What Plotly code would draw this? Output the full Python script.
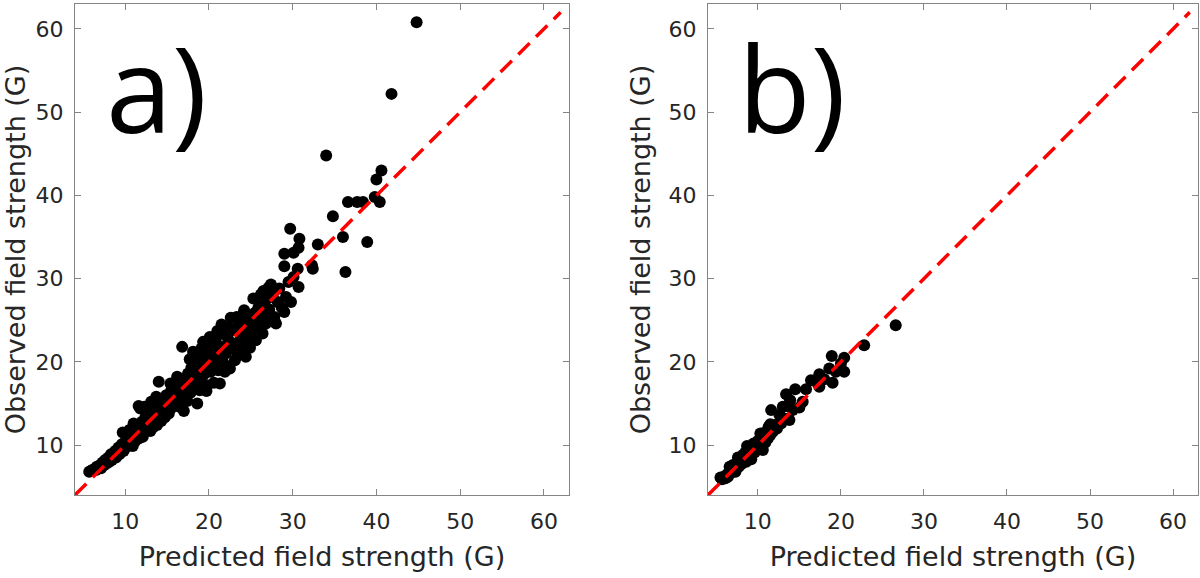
import plotly.graph_objects as go

# --------------------------------------
# Data
# --------------------------------------

# panel a) predicted vs observed field strength (G)
pred_a = [
    5.7, 5.9, 6.1, 6.3, 6.5, 6.6, 6.8, 7.0, 7.1, 7.3, 7.5, 7.6, 7.8, 8.0, 8.1, 8.3,
    8.4, 8.6, 8.8, 8.9, 9.0, 9.2, 9.3, 9.5, 9.6, 9.7, 9.8, 10.0, 10.2, 10.3, 10.5,
    10.7, 10.8, 11.0, 11.2, 11.3, 11.5, 11.6, 11.8, 12.0, 12.2, 12.4, 12.5, 12.7,
    12.9, 13.0, 13.2, 13.3, 13.5, 13.6, 13.8, 14.0, 14.0, 14.1, 14.3, 14.4, 14.6,
    14.7, 14.9, 15.0, 15.2, 15.3, 15.5, 15.6, 15.8, 15.9, 16.1, 16.3, 16.4, 16.6,
    16.7, 16.8, 16.9, 17.0, 17.0, 17.2, 17.3, 17.5, 17.6, 17.8, 17.9, 18.0, 18.2,
    18.3, 18.4, 18.6, 18.6, 18.7, 18.8, 19.0, 19.1, 19.2, 19.4, 19.5, 19.6, 19.8,
    19.9, 20.0, 20.2, 20.3, 20.5, 20.6, 20.8, 20.9, 21.1, 21.3, 21.4, 21.6, 21.8,
    22.0, 22.1, 22.3, 22.5, 22.6, 22.7, 23.0, 23.2, 23.4, 23.6, 23.8, 24.0, 24.1,
    24.3, 24.4, 24.6, 24.8, 25.0, 25.2, 25.3, 25.5, 25.7, 25.9, 26.1, 26.3, 26.5,
    26.7, 27.0, 27.2, 27.4, 27.6, 27.8, 28.0, 28.2, 28.4, 28.7, 29.0, 29.2, 29.5,
    10.5, 11.0, 11.8, 12.3, 12.6, 13.1, 13.7, 12.1, 13.0, 14.2, 14.8, 10.9, 11.6,
    15.4, 16.2, 15.1, 16.5, 17.7, 18.1, 17.4, 18.9, 19.3, 19.7,
    20.1, 21.0, 21.5, 22.4, 23.3, 24.2, 21.9, 23.1, 25.6, 26.4, 26.2, 27.1, 23.8,
    24.9, 26.8,
    29.0, 29.0, 29.7, 30.1, 30.7, 30.8, 30.6, 30.1, 30.7, 29.8, 32.3, 32.4, 33.0,
    34.0, 34.8, 36.0, 36.3, 38.9, 36.6, 37.7, 38.4, 39.8, 40.4, 40.0, 40.6, 41.8,
    44.8,
]
obs_a = [
    6.8, 6.9, 7.0, 7.1, 7.0, 7.4, 7.3, 7.6, 7.2, 7.9, 7.6, 8.2, 7.8, 8.5, 8.0, 8.9,
    8.2, 8.6, 9.3, 8.5, 9.0, 9.7, 8.9, 9.4, 10.1, 11.5, 9.3, 10.4, 9.8, 11.0, 10.2,
    11.5, 10.6, 11.2, 10.5, 12.0, 11.3, 14.7, 10.9, 12.8, 11.6, 13.3, 12.3, 11.8,
    13.9, 12.7, 13.4, 12.1, 14.3, 13.0, 12.4, 14.9, 17.6, 13.6, 12.9, 15.5, 14.2,
    13.3, 16.0, 14.8, 13.8, 15.6, 16.6, 14.5, 15.3, 17.1, 15.9, 16.8, 15.0, 17.5,
    16.2, 21.8, 15.4, 18.0, 14.1, 16.9, 15.8, 18.6, 17.4, 16.3, 19.3, 18.0, 16.9,
    20.1, 18.6, 17.4, 15.0, 20.8, 19.2, 17.9, 21.6, 20.0, 18.5, 21.0, 19.4, 17.2,
    22.2, 20.3, 18.8, 21.5, 19.7, 17.5, 22.5, 20.6, 19.0, 17.4, 21.8, 20.2, 23.3,
    21.0, 19.5, 22.7, 19.2, 25.3, 21.6, 23.8, 22.2, 20.8, 24.6, 22.9, 25.6, 23.4,
    21.9, 20.6, 24.5, 23.0, 25.3, 23.8, 27.6, 25.9, 24.2, 26.5, 25.0, 27.2, 28.5,
    25.6, 27.6, 26.3, 29.3, 28.0, 25.4, 24.6, 27.2, 28.8, 26.5, 26.0, 27.8, 29.6,
    11.8, 12.6, 14.4, 14.6, 13.9, 15.2, 15.8, 11.0, 11.7, 13.0, 13.5, 9.9, 10.8,
    17.4, 18.2, 13.9, 14.6, 20.3, 21.2, 15.3, 16.6, 22.4, 16.5,
    23.0, 23.7, 24.5, 24.1, 25.4, 26.2, 18.8, 20.2, 22.6, 23.4, 28.1, 28.9, 21.2,
    21.7, 24.6,
    31.5, 33.0, 36.0, 33.1, 33.7, 34.8, 31.2, 30.2, 29.0, 27.2, 31.6, 31.2, 34.1,
    44.8, 37.5, 35.0, 30.8, 34.4, 39.2, 39.2, 39.2, 39.8, 39.2, 41.9, 43.0, 52.2,
    60.8,
]

# panel b)
pred_b = [
    5.5, 5.7, 5.9, 6.1, 6.3, 6.4, 6.6, 6.7, 6.9, 7.0, 7.2, 7.3, 7.5, 7.6, 7.7, 7.9,
    8.0, 8.2, 8.3, 8.5, 8.6, 8.7, 8.8, 9.0, 9.1, 9.2, 9.4, 9.5, 9.6, 9.8, 10.0,
    10.1, 10.3, 10.4, 10.6, 10.7, 10.9, 11.0, 11.2, 11.3, 11.5, 11.5, 11.6, 11.8,
    12.0, 12.3, 12.6, 12.8, 13.0, 13.2, 13.4, 13.5, 13.8, 13.9, 14.2, 14.5, 15.0,
    15.4, 15.8, 16.4, 17.0, 17.4, 17.4, 18.0, 18.6, 18.9, 19.0, 19.4, 20.0, 20.4,
    20.4, 22.8, 26.6,
]
obs_b = [
    6.1, 5.9, 6.2, 6.0, 6.5, 6.2, 7.4, 6.6, 6.9, 7.6, 7.0, 6.8, 7.8, 8.5, 7.4, 8.1,
    7.7, 8.8, 8.3, 9.1, 8.0, 9.9, 8.7, 9.5, 8.6, 8.3, 9.6, 10.2, 9.1, 10.0, 10.5,
    9.6, 11.4, 10.4, 9.4, 11.0, 10.3, 11.6, 10.8, 12.2, 11.2, 12.5, 14.2, 11.6,
    12.4, 12.0, 13.6, 12.6, 14.6, 13.2, 16.1, 14.7, 13.0, 15.4, 14.2, 16.7, 14.5,
    15.2, 16.7, 17.8, 17.6, 18.5, 17.0, 17.9, 19.2, 20.7, 17.5, 18.8, 19.8, 20.5,
    18.8, 22.0, 24.4,
]

# one-to-one reference line
diag_line = [4, 62]

axis_range = [4, 63]
tick_vals = [10, 20, 30, 40, 50, 60]

# --------------------------------------
# Figure
# --------------------------------------
fig = go.Figure()

for pred, obs, xa, ya in [(pred_a, obs_a, 'x', 'y'), (pred_b, obs_b, 'x2', 'y2')]:
    fig.add_trace(go.Scatter(
        x=pred, y=obs, mode='markers',
        marker=dict(size=12, color='black'),
        xaxis=xa, yaxis=ya, showlegend=False
    ))
    fig.add_trace(go.Scatter(
        x=diag_line, y=diag_line, mode='lines',
        line=dict(color='#ff0000', width=3.5, dash='16px,9px'),
        xaxis=xa, yaxis=ya, showlegend=False
    ))

axis_style = dict(
    range=axis_range,
    tickvals=tick_vals,
    showline=True, mirror='ticks',
    linecolor='#858585', linewidth=1.3,
    ticks='inside', ticklen=6, tickcolor='#858585', tickwidth=1.3,
    showgrid=False, zeroline=False,
    tickfont=dict(family='DejaVu Sans', size=22, color='#262626'),
)
title_font = dict(family='DejaVu Sans', size=27, color='#262626')

fig.update_layout(
    width=1200, height=578,
    margin=dict(l=75, r=2, t=4, b=83),
    plot_bgcolor='white', paper_bgcolor='white',
    xaxis=dict(axis_style, domain=[0, 0.4399], anchor='y', ticklabelstandoff=6,
               title=dict(text='Predicted field strength (G)', font=title_font, standoff=14)),
    yaxis=dict(axis_style, domain=[0, 1], anchor='x', ticklabelstandoff=6,
               title=dict(text='Observed field strength (G)', font=title_font, standoff=10)),
    xaxis2=dict(axis_style, domain=[0.5637, 1.0], anchor='y2', ticklabelstandoff=6,
                title=dict(text='Predicted field strength (G)', font=title_font, standoff=14)),
    yaxis2=dict(axis_style, domain=[0, 1], anchor='x2', ticklabelstandoff=6,
                title=dict(text='Observed field strength (G)', font=title_font, standoff=10)),
)

# panel labels
for lbl, xr, yr in [('a)', 'x domain', 'y domain'), ('b)', 'x2 domain', 'y2 domain')]:
    fig.add_annotation(
        text=lbl, xref=xr, yref=yr, x=0.058, y=0.83,
        xanchor='left', yanchor='middle', showarrow=False,
        font=dict(family='Open Sans', size=119, color='black')
    )

fig.write_html("out.html", config={'displayModeBar': False},
               post_script="document.body.style.margin = '0';")
